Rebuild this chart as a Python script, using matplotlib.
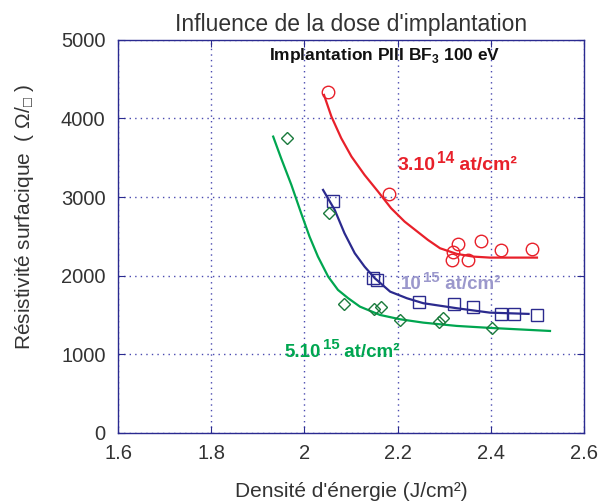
import matplotlib
matplotlib.use("Agg")
import matplotlib.pyplot as plt

plt.rcParams['font.family'] = ['Liberation Sans', 'DejaVu Sans']
plt.rcParams['mathtext.fontset'] = 'custom'
plt.rcParams['mathtext.rm'] = 'Liberation Sans'
plt.rcParams['mathtext.bf'] = 'Liberation Sans:bold'
plt.rcParams['mathtext.fallback'] = 'stixsans'

# mesures : dose 3.10^14 at/cm2
x_3e14 = [2.051, 2.181, 2.318, 2.317, 2.329, 2.351, 2.378, 2.421, 2.489]
r_3e14 = [4340, 3045, 2300, 2197, 2401, 2197, 2443, 2324, 2345]
# courbe d'ajustement 3.10^14
fx_3e14 = [2.042, 2.058, 2.079, 2.101, 2.129, 2.158, 2.186, 2.215, 2.265, 2.291, 2.327, 2.362, 2.398, 2.499]
fy_3e14 = [4299, 4023, 3749, 3515, 3282, 3070, 2858, 2688, 2455, 2349, 2277, 2243, 2230, 2230]

# mesures : dose 10^15 at/cm2
x_1e15 = [2.061, 2.147, 2.155, 2.246, 2.320, 2.362, 2.421, 2.449, 2.500]
r_1e15 = [2948, 1968, 1947, 1671, 1637, 1599, 1514, 1514, 1497]
fx_1e15 = [2.040, 2.065, 2.086, 2.108, 2.129, 2.151, 2.184, 2.220, 2.255, 2.327, 2.398, 2.481]
fy_1e15 = [3091, 2837, 2540, 2286, 2116, 1968, 1797, 1713, 1650, 1586, 1530, 1514]

# mesures : dose 5.10^15 at/cm2
x_5e15 = [1.962, 2.053, 2.086, 2.149, 2.165, 2.205, 2.288, 2.297, 2.403]
r_5e15 = [3749, 2799, 1645, 1582, 1603, 1434, 1408, 1459, 1340]
fx_5e15 = [1.933, 1.950, 1.972, 1.993, 2.011, 2.029, 2.051, 2.072, 2.094, 2.119, 2.162, 2.205,
           2.255, 2.327, 2.398, 2.527]
fy_5e15 = [3769, 3494, 3155, 2795, 2497, 2243, 1988, 1819, 1713, 1607, 1501, 1446,
           1403, 1361, 1336, 1297]

xticks = [1.6, 1.8, 2.0, 2.2, 2.4, 2.6]
xticklabels = ['1.6', '1.8', '2', '2.2', '2.4', '2.6']
yticks = [0, 1000, 2000, 3000, 4000, 5000]

red = '#e8202a'
blue = '#2b2a8e'
green = '#00a650'
dgreen = '#1a7a3c'
lilac = '#9b98cc'
frame = '#2a2a90'

fig = plt.figure(figsize=(5.99, 5.04), dpi=100)
ax = fig.add_axes([0.197, 0.141, 0.778, 0.780])


def dose_label(x, y, base, exp, color, size):
    # "base" puis exposant puis unite, sur la meme ligne de base
    t1 = ax.text(x, y, base, fontsize=size, fontweight='bold', color=color, va='baseline')
    t2 = ax.annotate(exp, xy=(1, 1), xycoords=t1, xytext=(1, 4), textcoords='offset points',
                     fontsize=size * 0.8, fontweight='bold', color=color, va='top')
    ax.annotate(" at/cm²", xy=(1, 0), xycoords=(t2, t1), fontsize=size,
                fontweight='bold', color=color, va='bottom')


ax.plot(fx_3e14, fy_3e14, color=red, lw=1.6)
ax.plot(x_3e14, r_3e14, 'o', ms=9, mfc='none', mec=red, mew=1.0)
ax.plot(fx_1e15, fy_1e15, color=blue, lw=1.6)
ax.plot(x_1e15, r_1e15, 's', ms=9, mfc='none', mec=blue, mew=1.0)
ax.plot(fx_5e15, fy_5e15, color=green, lw=1.6)
ax.plot(x_5e15, r_5e15, 'D', ms=6, mfc='none', mec=dgreen, mew=1.0)

ax.set_xlim(1.6, 2.6)
ax.set_ylim(0, 5000)
ax.set_xticks(xticks)
ax.set_xticklabels(xticklabels)
ax.set_yticks(yticks)
ax.grid(True, color='#4a4ab0', linestyle=(0, (1, 3)), lw=1.0)
ax.tick_params(direction='in', length=5, color=frame, labelsize=14.5,
               labelcolor='#333333', top=True, right=True)
ax.tick_params(axis='x', pad=8)
ax.tick_params(axis='y', pad=9)
for s in ax.spines.values():
    s.set_color(frame)
    s.set_linewidth(1.0)

ax.set_title("Influence de la dose d'implantation", fontsize=16.5, color='#333333', pad=6)
ax.set_xlabel("Densité d'énergie (J/cm²)", fontsize=15, color='#333333', labelpad=14)
ax.set_ylabel("Résistivité surfacique  ( Ω/$_{□}$ )", fontsize=15, color='#333333')
ax.yaxis.set_label_coords(-0.176, 0.55)

ax.text(2.173, 4800, r"Implantation PIII BF$_\mathbf{3}$ 100 eV", fontsize=12.5, fontweight='bold',
        color='#111111', ha='center', va='center')
dose_label(2.199, 3345, "3.10", "14", red, 14)
dose_label(2.208, 1825, "10", "15", lilac, 13.5)
dose_label(1.958, 967, "5.10", "15", green, 13.5)

fig.savefig('out.png', dpi=100)
